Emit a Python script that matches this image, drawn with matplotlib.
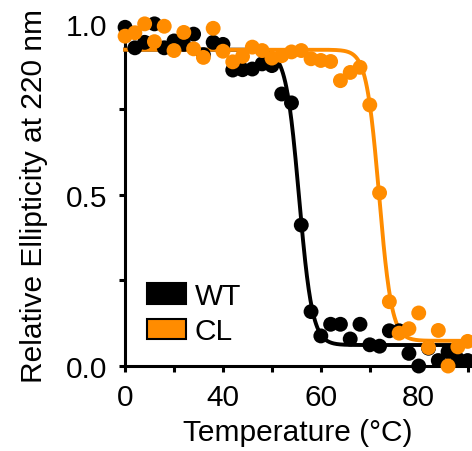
import numpy as np
import matplotlib
matplotlib.use('Agg')
import matplotlib.pyplot as plt
from matplotlib.patches import Patch

plt.rcParams['font.family'] = ['Liberation Sans', 'DejaVu Sans']

# temperature (C), every 2 degrees
temps = [20, 22, 24, 26, 28, 30, 32, 34, 36, 38, 40, 42, 44, 46, 48, 50, 52, 54,
         56, 58, 60, 62, 64, 66, 68, 70, 72, 74, 76, 78, 80, 82, 84, 86, 88, 90]

wt = [0.99, 0.93, 0.946, 1.0, 0.93, 0.95, 0.94, 0.97, 0.91, 0.946, 0.94, 0.865,
      0.866, 0.868, 0.883, 0.878, 0.795, 0.769, 0.412, 0.159, 0.088, 0.122,
      0.122, 0.079, 0.122, 0.062, 0.058, 0.103, 0.103, 0.037, 0.0, 0.052,
      0.016, 0.042, 0.02, 0.016]

cl = [0.964, 0.974, 1.0, 0.948, 0.993, 0.922, 0.975, 0.927, 0.902, 0.987, 0.92,
      0.889, 0.905, 0.932, 0.922, 0.9, 0.907, 0.918, 0.922, 0.898, 0.893, 0.89,
      0.834, 0.858, 0.873, 0.763, 0.506, 0.188, 0.096, 0.109, 0.155, 0.054,
      0.104, 0.0, 0.056, 0.072]

xticks = [20, 30, 40, 50, 60, 70, 80, 90]
xticklabels = ['0', '', '40', '', '60', '', '80', '']
yticks = [0, 0.25, 0.5, 0.75, 1.0]
yticklabels = ['0.0', '', '0.5', '', '1.0']

ORANGE = '#FF8C00'
FS = 21.5


def fit_boltzmann(x, y):
    # grid search on Tm / slope, linear least squares for top and bottom
    x = np.asarray(x, float)
    y = np.asarray(y, float)
    best = None
    for tm in np.arange(40, 85, 0.05):
        for k in np.arange(0.3, 4.0, 0.05):
            s = 1.0 / (1.0 + np.exp((x - tm) / k))
            A = np.column_stack([1 - s, s])
            coef, res, _, _ = np.linalg.lstsq(A, y, rcond=None)
            err = np.sum((A @ coef - y) ** 2)
            if best is None or err < best[0]:
                best = (err, tm, k, coef[0], coef[1])
    return best[1:]


def boltzmann(x, tm, k, bottom, top):
    return bottom + (top - bottom) / (1.0 + np.exp((x - tm) / k))


fig = plt.figure(figsize=(4.72, 4.52), dpi=100)
ax = fig.add_axes([0.265, 0.188, 0.731, 0.757])

xs = np.linspace(20, 90, 600)
for vals, col, z in [(wt, 'black', 2), (cl, ORANGE, 3)]:
    p = fit_boltzmann(temps, vals)
    ax.plot(xs, boltzmann(xs, *p), color=col, lw=2.8, zorder=z, clip_on=False)
    ax.scatter(temps, vals, s=115, color=col, edgecolors='none', zorder=z + 2,
               clip_on=False)

ax.set_xlim(20, 90.5)
ax.set_ylim(0, 1.0)
ax.set_xticks(xticks)
ax.set_xticklabels(xticklabels)
ax.set_yticks(yticks)
ax.set_yticklabels(yticklabels)

for s in ['top', 'right']:
    ax.spines[s].set_visible(False)
for s in ['left', 'bottom']:
    ax.spines[s].set_linewidth(2.2)
ax.tick_params(width=2.2, length=4.5, labelsize=FS, pad=8, direction='out')

ax.set_xlabel('Temperature (°C)', fontsize=FS, labelpad=5)
ax.set_ylabel('Relative Ellipticity at 220 nm', fontsize=FS, labelpad=13)

handles = [Patch(facecolor='black', edgecolor='black', lw=1.5, label='WT'),
           Patch(facecolor=ORANGE, edgecolor='black', lw=1.5, label='CL')]
ax.legend(handles=handles, loc='lower left', bbox_to_anchor=(0.064, 0.06),
          frameon=False, fontsize=FS, handlelength=1.3, handleheight=0.7,
          handletextpad=0.3, labelspacing=0.25, borderpad=0, borderaxespad=0)

fig.savefig('out.png', dpi=100)
